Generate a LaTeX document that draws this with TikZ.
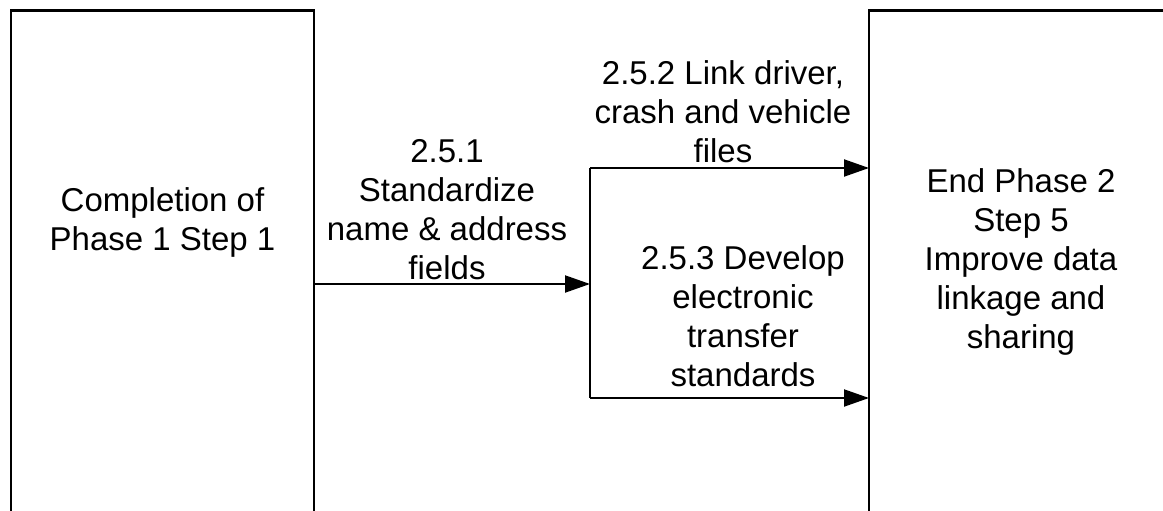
\documentclass[tikz,border=0pt]{standalone}
\usepackage{fontspec}
\setmainfont{Liberation Sans}
\usetikzlibrary{arrows.meta}
\begin{document}
\begin{tikzpicture}[x=1pt,y=1pt,
  box/.style={draw, line width=2.4pt, minimum width=303pt, minimum height=600pt, anchor=north west, inner sep=0pt, outer sep=0pt},
  lbl/.style={align=center, font=\fontsize{33}{39}\selectfont, inner sep=0pt},
  conn/.style={line width=2pt},
  arr/.style={conn, -{Triangle[length=25pt,width=17pt]}}]
\useasboundingbox (0,0) rectangle (1163,-511);
\clip (0,0) rectangle (1163,-511);
\node[box] (left) at (11,-10.5) {};
\node[box] (right) at (869,-10.5) {};
\node[lbl] (lefttext) at (162.5,-222) {Completion of\\Phase 1 Step 1};
\node[lbl] (righttext) at (1021,-262) {End Phase 2\\Step 5\\Improve data\\linkage and\\sharing};
\coordinate (j) at (590,-284);
\coordinate (jt) at (590,-168);
\coordinate (jb) at (590,-398);
\draw[arr] (left.east |- j) -- (j);
\draw[conn] (jt) -- (jb);
\draw[arr] (jt) -- (jt -| right.west);
\draw[arr] (jb) -- (jb -| right.west);
\node[lbl] (l251) at (447,-210) {2.5.1\\Standardize\\name \& address\\fields};
\node[lbl] (l252) at (723,-112) {2.5.2 Link driver,\\crash and vehicle\\files};
\node[lbl] (l253) at (743,-316) {2.5.3 Develop\\electronic\\transfer\\standards};
\end{tikzpicture}
\end{document}
